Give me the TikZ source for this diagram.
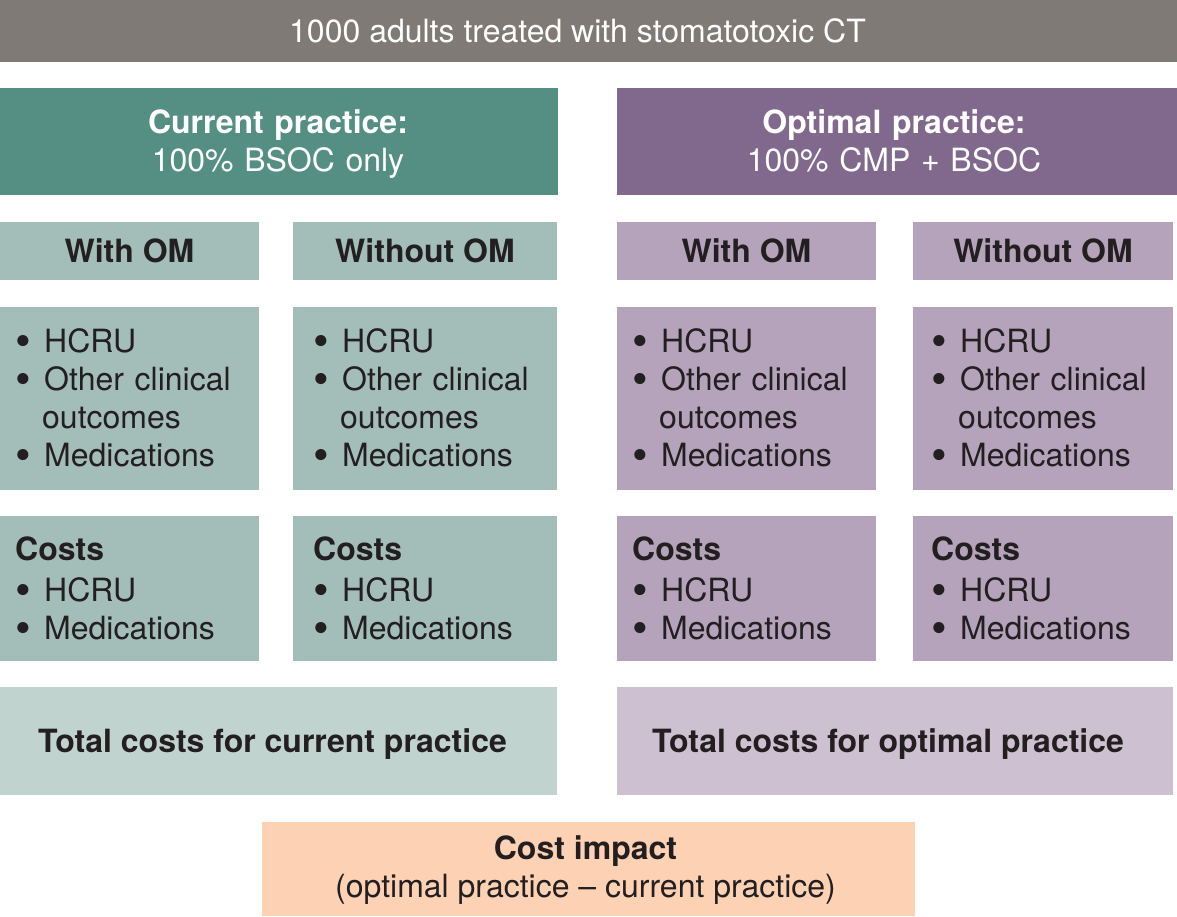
\documentclass[tikz,border=0pt]{standalone}
\usepackage{fontspec}
\setmainfont{TeX Gyre Heros}
\definecolor{topgray}{HTML}{7F7A76}
\definecolor{tealD}{HTML}{558F84}
\definecolor{tealM}{HTML}{A3BDB8}
\definecolor{tealL}{HTML}{C1D3CF}
\definecolor{purD}{HTML}{80698D}
\definecolor{purM}{HTML}{B5A3BC}
\definecolor{purL}{HTML}{CCC0D1}
\definecolor{peach}{HTML}{FCD1B4}
\definecolor{txtc}{HTML}{231F20}
\newcommand\bul[1]{\makebox[29pt][l]{\smash{\raisebox{-4.2pt}{\scalebox{1.4}{\textbullet}}}}#1}
\tikzset{
  box/.style={draw=none, anchor=north west, inner sep=0pt, outer sep=0pt},
  bigfont/.style={font=\fontsize{32}{38}\selectfont},
  lighttxt/.style={bigfont, text=white, align=center, inner sep=0pt},
  darktxt/.style={bigfont, text=txtc, align=center, inner sep=0pt},
  headtxt/.style={bigfont, text=white, anchor=base, text width=540pt, align=center, inner sep=0pt},
  listtxt/.style={bigfont, text=txtc, anchor=base west, text width=240pt, align=left, inner sep=0pt}
}
\begin{document}
\begin{tikzpicture}[x=1pt,y=-1pt]
\useasboundingbox (0,0) rectangle (1177,916);
\fill[white] (0,0) rectangle (1177,916);
% top
\node[box, fill=topgray, minimum width=1177pt, minimum height=62pt] (top) at (0,0) {};
\node[lighttxt] (toptxt) at ([xshift=-11pt]top.center) {1000 adults treated with stomatotoxic CT};
% practice headers
\node[box, fill=tealD, minimum width=558pt, minimum height=107pt] (cur) at (0,88) {};
\node[headtxt] (curtxt) at (278,133) {\textbf{Current practice:}\\100\% BSOC only};
\node[box, fill=purD, minimum width=560pt, minimum height=107pt] (opt) at (617,88) {};
\node[headtxt] (opttxt) at (894,133) {\textbf{Optimal practice:}\\100\% CMP + BSOC};
% with / without
\node[box, fill=tealM, minimum width=259pt, minimum height=58pt] (cw) at (0,222) {};
\node[darktxt] (cwt) at (cw.center) {\textbf{With OM}};
\node[box, fill=tealM, minimum width=264pt, minimum height=58pt] (cwo) at (293,222) {};
\node[darktxt] (cwot) at (cwo.center) {\textbf{Without OM}};
\node[box, fill=purM, minimum width=259pt, minimum height=58pt] (ow) at (617,222) {};
\node[darktxt] (owt) at (ow.center) {\textbf{With OM}};
\node[box, fill=purM, minimum width=260pt, minimum height=58pt] (owo) at (913,222) {};
\node[darktxt] (owot) at (owo.center) {\textbf{Without OM}};
% lists
\node[box, fill=tealM, minimum width=259pt, minimum height=183pt] (cl) at (0,307) {};
\node[box, fill=tealM, minimum width=264pt, minimum height=183pt] (col) at (293,307) {};
\node[box, fill=purM, minimum width=259pt, minimum height=183pt] (ol) at (617,307) {};
\node[box, fill=purM, minimum width=260pt, minimum height=183pt] (ool) at (913,307) {};
\node[listtxt] (clt) at (15,352) {\bul{HCRU}\\\bul{Other clinical}\\\hspace*{27pt}outcomes\\\bul{Medications}};
\node[listtxt] (colt) at (313,352) {\bul{HCRU}\\\bul{Other clinical}\\\hspace*{27pt}outcomes\\\bul{Medications}};
\node[listtxt] (olt) at (632,352) {\bul{HCRU}\\\bul{Other clinical}\\\hspace*{27pt}outcomes\\\bul{Medications}};
\node[listtxt] (oolt) at (931,352) {\bul{HCRU}\\\bul{Other clinical}\\\hspace*{27pt}outcomes\\\bul{Medications}};
% costs
\node[box, fill=tealM, minimum width=259pt, minimum height=145pt] (cc) at (0,516) {};
\node[box, fill=tealM, minimum width=264pt, minimum height=145pt] (coc) at (293,516) {};
\node[box, fill=purM, minimum width=259pt, minimum height=145pt] (oc) at (617,516) {};
\node[box, fill=purM, minimum width=260pt, minimum height=145pt] (ooc) at (913,516) {};
\node[listtxt] (cct) at (15,560) {\textbf{Costs}\\[3pt]\bul{HCRU}\\\bul{Medications}};
\node[listtxt] (coct) at (313,560) {\textbf{Costs}\\[3pt]\bul{HCRU}\\\bul{Medications}};
\node[listtxt] (oct) at (632,560) {\textbf{Costs}\\[3pt]\bul{HCRU}\\\bul{Medications}};
\node[listtxt] (ooct) at (931,560) {\textbf{Costs}\\[3pt]\bul{HCRU}\\\bul{Medications}};
% totals
\node[box, fill=tealL, minimum width=557pt, minimum height=108pt] (ct) at (0,687) {};
\node[darktxt] (ctt) at ([xshift=-6pt,yshift=-3pt]ct.center) {\textbf{Total costs for current practice}};
\node[box, fill=purL, minimum width=556pt, minimum height=108pt] (ot) at (617,687) {};
\node[darktxt] (ott) at ([xshift=-7pt,yshift=-3pt]ot.center) {\textbf{Total costs for optimal practice}};
% impact
\node[box, fill=peach, minimum width=653pt, minimum height=94pt] (imp) at (262,822) {};
\node[darktxt] (impt) at ([xshift=-3pt,yshift=-1pt]imp.center) {\textbf{Cost impact}\\(optimal practice -- current practice)};
\end{tikzpicture}
\end{document}
